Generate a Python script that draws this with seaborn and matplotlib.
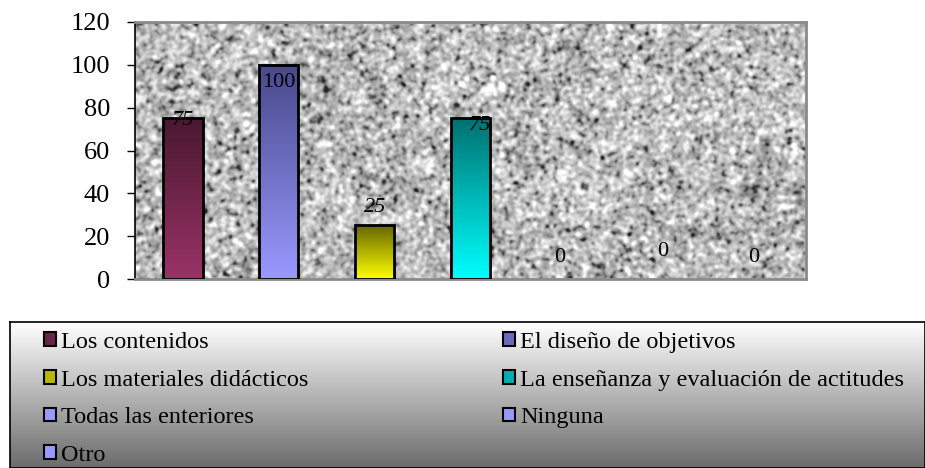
import numpy as np
import pandas as pd
import matplotlib
matplotlib.use("Agg")
import matplotlib.pyplot as plt
import seaborn as sns
from matplotlib.colors import LinearSegmentedColormap
from matplotlib.patches import Patch

# datos
categorias = ["Los contenidos", "El diseño de objetivos", "Los materiales didácticos",
              "La enseñanza y evaluación de actitudes", "Todas las enteriores",
              "Ninguna", "Otro"]
valores = [75, 100, 25, 75, 0, 0, 0]
etiquetas = ["75", "100", "25", "75", "0", "0", "0"]
ticks_y = [0, 20, 40, 60, 80, 100, 120]

# colores (abajo -> arriba del degradado)
color_abajo = ["#993366", "#9999ff", "#ffff00", "#00ffff", "#9999ff", "#9999ff", "#9999ff"]
color_arriba = ["#4a1830", "#48488a", "#666600", "#007070", "#9999ff", "#9999ff", "#9999ff"]
color_leyenda = ["#6e2346", "#6a6ab8", "#b8b800", "#00b0b0", "#9999ff", "#9999ff", "#9999ff"]

# desplazamiento de etiquetas (pixeles) y estilo
desp = [(0, -2), (0, -18), (0, 18), (9, -7), (-7, 22), (0, 28), (-4, 22)]
estilo = ["italic", "normal", "italic", "italic", "normal", "normal", "normal"]

sns.set_style("white")
plt.rcParams['font.family'] = ['Liberation Serif', 'DejaVu Serif']
plt.rcParams['text.color'] = 'black'
plt.rcParams['ytick.color'] = 'black'

fig = plt.figure(figsize=(9.25, 4.68), dpi=100)
ax = fig.add_axes([135 / 925, 1 - 279 / 468, 671 / 925, 257 / 468])

df = pd.DataFrame({"categoria": categorias, "valor": valores})
sns.barplot(data=df, x="categoria", y="valor", hue="categoria", palette=color_abajo,
            width=0.41, legend=False, ax=ax, zorder=3, edgecolor="black", linewidth=2)


# textura tipo granito de fondo
def suavizar(a, s):
    ky = np.fft.fftfreq(a.shape[0])
    kx = np.fft.fftfreq(a.shape[1])
    g = np.exp(-2 * (np.pi * s) ** 2 * (ky[:, None] ** 2 + kx[None, :] ** 2))
    return np.real(np.fft.ifft2(np.fft.fft2(a) * g))


rng = np.random.default_rng(7)
t1 = suavizar(rng.normal(size=(257, 671)), 1.6)
t1 /= t1.std()
t2 = suavizar(rng.normal(size=(257, 671)), 6)
t2 /= t2.std()
tex = 0.73 + 0.11 * t1 + 0.03 * t2 - 0.12 * np.maximum(-t1 - 1.1, 0)
tex = np.clip(tex, 0.15, 1.0)
ax.imshow(tex, cmap="gray", vmin=0, vmax=1, extent=(-0.5, 6.5, 0, 120),
          aspect="auto", zorder=0, interpolation="bilinear")

# degradado dentro de las barras
barras = sorted(ax.patches, key=lambda p: p.get_x())
grad = np.linspace(0, 1, 256).reshape(-1, 1)
for i, p in enumerate(barras):
    h = p.get_height()
    if h > 0:
        cmap = LinearSegmentedColormap.from_list("g%d" % i, [color_abajo[i], color_arriba[i]])
        ax.imshow(grad, cmap=cmap, extent=(p.get_x(), p.get_x() + p.get_width(), 0, h),
                  origin="lower", aspect="auto", zorder=2)
        p.set_facecolor("none")
    else:
        p.set_visible(False)

for i, p in enumerate(barras):
    ax.annotate(etiquetas[i], (p.get_x() + p.get_width() / 2, p.get_height()),
                xytext=desp[i], textcoords="offset pixels", ha="center", va="center",
                fontsize=16, style=estilo[i], color="black", zorder=5)

ax.set_xlim(-0.5, 6.5)
ax.set_ylim(0, 120)
ax.set_yticks(ticks_y)
ax.set_xticks([])
ax.set_xlabel("")
ax.set_ylabel("")
ax.tick_params(axis="y", direction="out", length=6, width=1, color="black",
               labelcolor="black", labelsize=19, pad=12, left=True)
for lado in ["top", "right", "bottom"]:
    ax.spines[lado].set_color("#8a8a8a")
    ax.spines[lado].set_linewidth(2)
ax.spines["left"].set_color("black")
ax.spines["left"].set_linewidth(1.2)

# caja de la leyenda con degradado
lax = fig.add_axes([10 / 925, 0, 1 - 10 / 925, 1 - 322 / 468], zorder=1)
fondo = np.linspace(1, 0.42, 256).reshape(-1, 1)
lax.imshow(fondo, cmap="gray", vmin=0, vmax=1, aspect="auto",
           extent=(0, 1, 0, 1), interpolation="bilinear")
lax.set_xticks([])
lax.set_yticks([])
for s in lax.spines.values():
    s.set_color("black")
    s.set_linewidth(1.2)

orden = [0, 2, 4, 6, 1, 3, 5]
manijas = [Patch(facecolor=color_leyenda[i], edgecolor="black", linewidth=1.5) for i in orden]
nombres = [categorias[i] for i in orden]
leg = fig.legend(manijas, nombres, ncol=2, loc="upper left",
                 bbox_to_anchor=(44 / 925, 1 - 332 / 468), frameon=False,
                 fontsize=17.5, handlelength=0.5, handleheight=0.5,
                 handletextpad=0.2, labelspacing=0.68, columnspacing=8.0,
                 borderpad=0, borderaxespad=0)
leg.set_zorder(10)

fig.savefig("out.png", dpi=100)
